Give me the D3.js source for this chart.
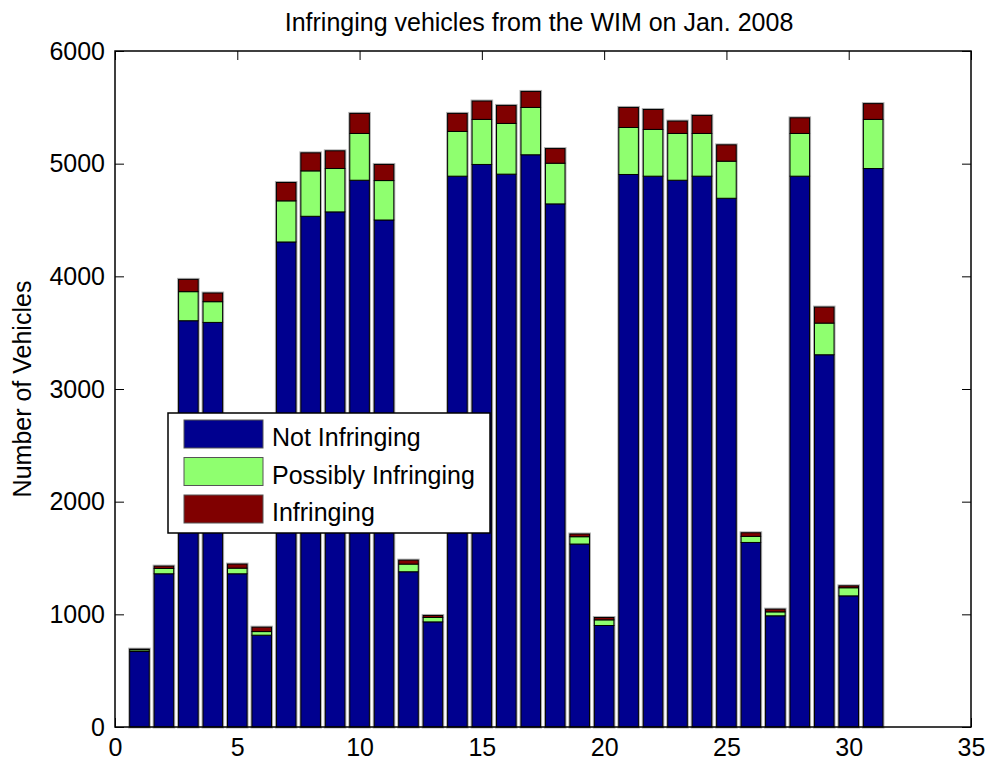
<!DOCTYPE html>
<html>
<head>
<meta charset="utf-8">
<script src="https://cdn.jsdelivr.net/npm/d3@7"></script>
<style>
  body { margin: 0; background: #fff; }
  text { font-family: "Liberation Sans", Arial, sans-serif; }
</style>
</head>
<body>
<div id="chart"></div>
<script>
// Daily counts from the WIM station, January 2008
const days = d3.range(1, 32);
const notInfringing = [670, 1360, 3606, 3591, 1360, 815, 4305, 4533, 4572, 4853, 4500, 1378, 933, 4889, 4993,
  4907, 5079, 4643, 1624, 901, 4904, 4889, 4853, 4889, 4693, 1638, 987, 4889, 3304, 1164, 4957];
const possiblyInfringing = [15, 47, 258, 184, 50, 32, 365, 403, 385, 415, 350, 68, 39, 397, 400,
  450, 420, 361, 65, 50, 417, 415, 415, 379, 329, 54, 35, 379, 281, 72, 436];
const infringing = [6, 21, 109, 77, 36, 39, 163, 160, 157, 178, 143, 35, 18, 160, 163,
  160, 142, 130, 24, 21, 178, 177, 110, 160, 145, 32, 24, 139, 142, 17, 140];

const seriesNames = ["Not Infringing", "Possibly Infringing", "Infringing"];
const seriesColors = ["#00008f", "#8fff6f", "#800000"];
const xTicks = [0, 5, 10, 15, 20, 25, 30, 35];
const yTicks = [0, 1000, 2000, 3000, 4000, 5000, 6000];

const width = 988, height = 763;
const margin = { left: 115, right: 17, top: 51, bottom: 36 };
const fontSize = 25;

const svg = d3.select("#chart").append("svg")
  .attr("width", width)
  .attr("height", height);

svg.append("rect").attr("width", width).attr("height", height).attr("fill", "#fff");

const x = d3.scaleLinear().domain([0, 35]).range([margin.left, width - margin.right]);
const y = d3.scaleLinear().domain([0, 6000]).range([height - margin.bottom, margin.top]);

const rows = days.map((d, i) => ({
  day: d,
  "Not Infringing": notInfringing[i],
  "Possibly Infringing": possiblyInfringing[i],
  "Infringing": infringing[i]
}));
const stacked = d3.stack().keys(seriesNames)(rows);

const tickLen = 9;

// inward ticks on all four sides (MATLAB box style)
svg.append("g")
  .attr("transform", `translate(0,${y(0)})`)
  .call(d3.axisBottom(x).tickValues(xTicks).tickSizeInner(-tickLen).tickSizeOuter(0).tickFormat(""))
  .call(g => g.select(".domain").remove());
svg.append("g")
  .attr("transform", `translate(0,${y(6000)})`)
  .call(d3.axisTop(x).tickValues(xTicks).tickSizeInner(-tickLen).tickSizeOuter(0).tickFormat(""))
  .call(g => g.select(".domain").remove());
svg.append("g")
  .attr("transform", `translate(${x(35)},0)`)
  .call(d3.axisRight(y).tickValues(yTicks).tickSizeInner(-tickLen).tickSizeOuter(0).tickFormat(""))
  .call(g => g.select(".domain").remove());

// bars
const barW = x(0.8) - x(0);
const bars = svg.append("g");

// soft grey halo around each full stack
bars.selectAll("rect.halo")
  .data(rows)
  .join("rect")
  .attr("class", "halo")
  .attr("x", d => x(d.day) - barW / 2)
  .attr("width", barW)
  .attr("y", d => y(d["Not Infringing"] + d["Possibly Infringing"] + d["Infringing"]))
  .attr("height", d => y(0) - y(d["Not Infringing"] + d["Possibly Infringing"] + d["Infringing"]))
  .attr("fill", "none")
  .attr("stroke", "#b0b0b0")
  .attr("stroke-width", 3);

bars.selectAll("g.layer")
  .data(stacked)
  .join("g")
  .attr("class", "layer")
  .attr("fill", (d, i) => seriesColors[i])
  .selectAll("rect")
  .data(d => d)
  .join("rect")
  .attr("x", d => x(d.data.day) - barW / 2)
  .attr("width", barW)
  .attr("y", d => y(d[1]))
  .attr("height", d => y(d[0]) - y(d[1]))
  .attr("stroke", "#000")
  .attr("stroke-width", 1);

// left and bottom axes with labels
const xAxis = svg.append("g")
  .attr("transform", `translate(0,${y(0)})`)
  .call(d3.axisBottom(x).tickValues(xTicks).tickSize(0).tickPadding(11))
  .call(g => g.select(".domain").remove());
xAxis.selectAll("text").attr("font-size", fontSize).attr("fill", "#000");

const yAxis = svg.append("g")
  .attr("transform", `translate(${x(0)},0)`)
  .call(d3.axisLeft(y).tickValues(yTicks).tickFormat(d3.format("d"))
    .tickSizeInner(-tickLen).tickSizeOuter(0).tickPadding(10))
  .call(g => g.select(".domain").remove());
yAxis.selectAll("text").attr("font-size", fontSize).attr("fill", "#000").attr("dx", -tickLen + 9);

// box outline
svg.append("rect")
  .attr("x", x(0))
  .attr("y", y(6000))
  .attr("width", x(35) - x(0))
  .attr("height", y(0) - y(6000))
  .attr("fill", "none")
  .attr("stroke", "#000")
  .attr("stroke-width", 1.5);

// title and y label
svg.append("text")
  .attr("x", (x(0) + x(35)) / 2 - 4)
  .attr("y", 31)
  .attr("text-anchor", "middle")
  .attr("font-size", fontSize)
  .text("Infringing vehicles from the WIM on Jan. 2008");

svg.append("text")
  .attr("transform", `translate(31,${(y(0) + y(6000)) / 2}) rotate(-90)`)
  .attr("text-anchor", "middle")
  .attr("font-size", fontSize)
  .text("Number of Vehicles");

// legend
const legend = svg.append("g").attr("transform", "translate(168,413)");
legend.append("rect")
  .attr("width", 322)
  .attr("height", 120)
  .attr("fill", "#fff")
  .attr("stroke", "#000")
  .attr("stroke-width", 1.5);

const item = legend.selectAll("g.item")
  .data(seriesNames)
  .join("g")
  .attr("class", "item")
  .attr("transform", (d, i) => `translate(16,${7 + i * 37.5})`);
item.append("rect")
  .attr("width", 79)
  .attr("height", 28)
  .attr("fill", (d, i) => seriesColors[i])
  .attr("stroke", "#555")
  .attr("stroke-width", 1);
item.append("text")
  .attr("x", 88)
  .attr("y", 26)
  .attr("font-size", fontSize)
  .text(d => d);
</script>
</body>
</html>
